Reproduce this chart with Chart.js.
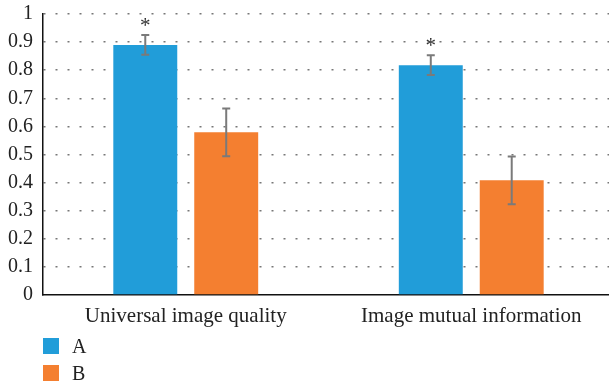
<!DOCTYPE html>
<html>
<head>
<meta charset="utf-8">
<script src="https://cdn.jsdelivr.net/npm/chart.js@4/dist/chart.umd.min.js"></script>
<style>
  html,body{margin:0;padding:0;background:#fff}
  #wrap{width:609px;height:387px;position:relative;overflow:hidden}
</style>
</head>
<body>
<div id="wrap"><canvas id="barChart" width="614" height="387"></canvas></div>
<script>
// data
const categories = ["Universal image quality", "Image mutual information"];
const seriesNames = ["A", "B"];
const valuesA = [0.89, 0.818];
const valuesB = [0.579, 0.408];
const errA = [0.035, 0.035];
const errB = [0.085, 0.085];
const starA = [true, true];
const yMax = 1, yStep = 0.1;

const colA = "#219dd9", colB = "#f47f30";
const serif = "'Liberation Serif', 'DejaVu Serif', serif";

// error bars + asterisks
const errPlugin = {
  id: "errBars",
  afterDatasetsDraw(chart) {
    const ctx = chart.ctx, y = chart.scales.y;
    const errs = [errA, errB];
    ctx.save();
    chart.data.datasets.forEach((ds, di) => {
      const meta = chart.getDatasetMeta(di);
      meta.data.forEach((bar, i) => {
        const v = ds.data[i], e = errs[di][i];
        const yt = y.getPixelForValue(v + e), yb = y.getPixelForValue(v - e);
        ctx.strokeStyle = "#7a7a7a"; ctx.lineWidth = 2;
        ctx.beginPath();
        ctx.moveTo(bar.x, yt); ctx.lineTo(bar.x, yb);
        ctx.moveTo(bar.x - 4, yt); ctx.lineTo(bar.x + 4, yt);
        ctx.moveTo(bar.x - 4, yb); ctx.lineTo(bar.x + 4, yb);
        ctx.stroke();
        if (di === 0 && starA[i]) {
          ctx.fillStyle = "#333"; ctx.font = "21px " + serif;
          ctx.textAlign = "center"; ctx.textBaseline = "middle";
          ctx.fillText("*", bar.x, yt - 9);
        }
      });
    });
    ctx.restore();
  }
};

// legend stacked below the axis
const legendPlugin = {
  id: "stackLegend",
  afterDraw(chart) {
    const ctx = chart.ctx;
    ctx.save();
    chart.data.datasets.forEach((ds, i) => {
      const top = 338 + i * 27;
      ctx.fillStyle = ds.backgroundColor;
      ctx.fillRect(43, top, 16, 16);
      ctx.fillStyle = "#222"; ctx.font = "20px " + serif;
      ctx.textAlign = "left"; ctx.textBaseline = "alphabetic";
      ctx.fillText(ds.label, 72, top + 15);
    });
    ctx.restore();
  }
};

new Chart(document.getElementById("barChart").getContext("2d"), {
  type: "bar",
  data: {
    labels: categories,
    datasets: [
      {label: seriesNames[0], data: valuesA, backgroundColor: colA},
      {label: seriesNames[1], data: valuesB, backgroundColor: colB}
    ]
  },
  options: {
    responsive: false, animation: false,
    categoryPercentage: 0.567, barPercentage: 0.79,
    layout: {padding: {top: 14, right: 0, left: 0, bottom: 0}},
    plugins: {legend: {display: false}, tooltip: {enabled: false}},
    scales: {
      x: {
        grid: {display: false, drawTicks: false},
        border: {color: "#111", width: 1.5},
        ticks: {font: {family: serif, size: 21}, color: "#222", padding: 9},
        afterFit: s => { s.height = 92; s.paddingLeft = 0; s.paddingRight = 0; }
      },
      y: {
        min: 0, max: yMax,
        grid: {color: c => c.tick.value === 0 ? "rgba(0,0,0,0)" : "#777", lineWidth: 1.5, drawTicks: false},
        border: {color: "#111", width: 1.5, dash: [2, 10]},
        ticks: {stepSize: yStep, font: {family: serif, size: 20}, color: "#222", padding: 10,
                callback: v => String(Number(v.toFixed(1)))},
        afterFit: s => { s.width = 43; s.paddingTop = 0; s.paddingBottom = 0; }
      }
    }
  },
  plugins: [errPlugin, legendPlugin]
});
</script>
</body>
</html>
